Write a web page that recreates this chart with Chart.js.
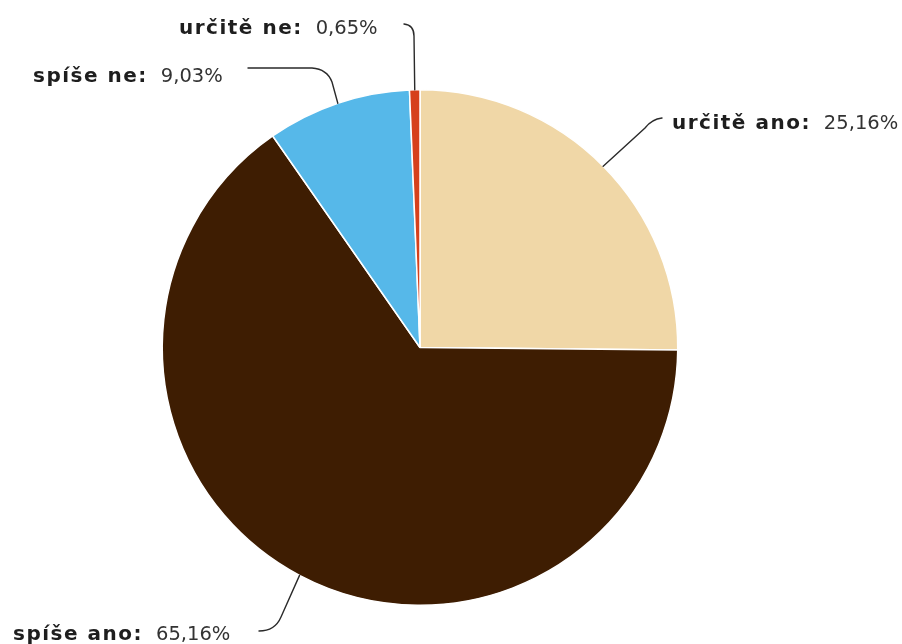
<!DOCTYPE html>
<html lang="cs">
<head>
<meta charset="utf-8">
<title>Odpovědi</title>
<script src="https://cdn.jsdelivr.net/npm/chart.js@4.4.1/dist/chart.umd.min.js"></script>
<style>
  html, body { margin: 0; padding: 0; background: #fff; }
  #obal { width: 902px; height: 644px; }
</style>
</head>
<body>
<div id="obal"><canvas id="kolac" width="902" height="644"></canvas></div>
<script>
/* ----- Data ----- */
const odpovedi = ["určitě ano", "spíše ano", "spíše ne", "určitě ne"];
const podily = [25.16, 65.16, 9.03, 0.65];
const barvy = ["#f0d7a7", "#3e1d02", "#56b8e9", "#d6401c"];

/* ----- Umístění popisků a tvar vodicích čar ----- */
// text: levý okraj a účaří; cara: rovný úsek, řídicí bod oblouku, konec (+ případně další bod)
const popisky = [
    { x: 672, y: 129, cara: [[645, 128], [652, 119], [662, 118]] },
    { x: 13,  y: 640, cara: [[281, 617], [275, 631], [259, 631]] },
    { x: 33,  y: 82,  cara: [[332, 82], [327, 69], [312, 68], [248, 68]] },
    { x: 179, y: 34,  cara: [[414, 36], [414, 25], [404, 24]] }
];

const formatuj = v => v.toFixed(2).replace(".", ",") + "%";

/* ----- Popisky s vodicími čarami ----- */
const popiskyPlugin = {
    id: "popisky",
    afterDraw(chart) {
        const ctx = chart.ctx;
        const oblouky = chart.getDatasetMeta(0).data;

        oblouky.forEach((oblouk, i) => {
            const { x, y, startAngle, endAngle, outerRadius } =
                oblouk.getProps(["x", "y", "startAngle", "endAngle", "outerRadius"], true);
            const uhel = (startAngle + endAngle) / 2;
            const sx = x + Math.cos(uhel) * outerRadius;
            const sy = y + Math.sin(uhel) * outerRadius;
            const p = popisky[i];
            const c = p.cara;

            ctx.save();
            ctx.strokeStyle = "#2a2a2a";
            ctx.lineWidth = 1.4;
            ctx.lineCap = "round";
            ctx.beginPath();
            ctx.moveTo(sx, sy);
            ctx.lineTo(c[0][0], c[0][1]);
            ctx.quadraticCurveTo(c[1][0], c[1][1], c[2][0], c[2][1]);
            if (c[3]) ctx.lineTo(c[3][0], c[3][1]);
            ctx.stroke();

            ctx.textBaseline = "alphabetic";
            ctx.textAlign = "left";
            ctx.fillStyle = "#1e1e1e";
            ctx.font = "bold 20px 'DejaVu Sans'";
            ctx.letterSpacing = "1.5px";
            const nazev = odpovedi[i] + ":";
            ctx.fillText(nazev, p.x, p.y);
            const sirka = ctx.measureText(nazev).width;

            ctx.fillStyle = "#333";
            ctx.font = "19.5px 'DejaVu Sans'";
            ctx.letterSpacing = "0px";
            ctx.fillText(formatuj(podily[i]), p.x + sirka + 13, p.y);
            ctx.restore();
        });
    }
};

/* ----- Koláčový graf ----- */
new Chart(document.getElementById("kolac"), {
    type: "pie",
    data: {
        labels: odpovedi,
        datasets: [{
            data: podily,
            backgroundColor: barvy,
            borderColor: "#ffffff",
            borderWidth: 1.5
        }]
    },
    options: {
        responsive: false,
        animation: false,
        layout: { padding: { top: 89, bottom: 38, left: 161, right: 223 } },
        plugins: {
            legend: { display: false },
            tooltip: { enabled: false }
        }
    },
    plugins: [popiskyPlugin]
});
</script>
</body>
</html>
